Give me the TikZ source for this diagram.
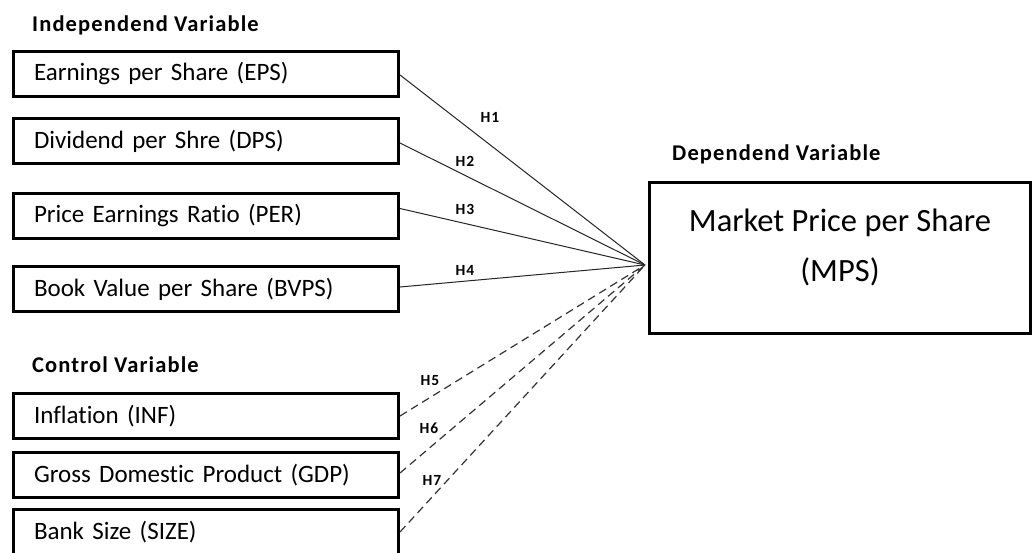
\documentclass[tikz,border=0pt]{standalone}
\usepackage{fontspec}
\setmainfont[Ligatures=NoCommon]{Carlito}
\begin{document}
\begin{tikzpicture}[x=1pt,y=-1pt,
  varbox/.style={draw=black, line width=3pt, minimum width=385pt, minimum height=45pt,
    inner xsep=20.5pt, text width=344pt, align=left, font=\fontsize{25}{30}\selectfont},
  heading/.style={anchor=base west, inner sep=0pt, font=\fontsize{22.5}{26}\selectfont\bfseries\addfontfeature{LetterSpace=5}},
  hlab/.style={inner sep=0pt, font=\fontsize{15.5}{17}\selectfont\bfseries\addfontfeature{LetterSpace=6}},
  solidlink/.style={draw=black!85, line width=1pt},
  dashlink/.style={draw=black!80, line width=1.2pt, dash pattern=on 8pt off 5pt}]
\useasboundingbox (0,0) rectangle (1033,552);
\fill[white] (0,0) rectangle (1033,552);

\node[heading] (hind) at (32,31) {Independend Variable};
\node[heading] (hdep) at (672,160) {Dependend Variable};
\node[heading] (hctl) at (32,372) {Control Variable};

\node[varbox] (b1) at (206,74) {Earnings per Share (EPS)};
\node[varbox] (b2) at (206,141) {Dividend per Shre (DPS)};
\node[varbox] (b3) at (206,215.5) {Price Earnings Ratio (PER)};
\node[varbox] (b4) at (206,289) {Book Value per Share (BVPS)};
\node[varbox] (b5) at (206,416) {Inflation (INF)};
\node[varbox] (b6) at (206,475) {Gross Domestic Product (GDP)};
\node[varbox] (b7) at (206,532) {Bank Size (SIZE)};

\node[draw=black, line width=3pt, minimum width=380.5pt, minimum height=151pt] (mps) at (839.75,258) {};
\node[align=center, inner sep=0pt, font=\fontsize{32.5}{50}\selectfont] (mpst) at (840,247) {Market Price per Share\\(MPS)};

\coordinate (c) at (645,265);

\draw[solidlink] ([yshift=-1pt]b1.east) -- (c);
\draw[solidlink] ([yshift=-2pt]b2.east) -- (c);
\draw[solidlink] ([yshift=7pt]b3.east) -- (c);
\draw[solidlink] ([yshift=2pt]b4.east) -- (c);
\draw[dashlink] (b5.east) -- (c);
\draw[dashlink] ([yshift=2pt]b6.east) -- (c);
\draw[dashlink] (b7.east) -- (c);

\node[hlab] (l1) at (490,117) {H1};
\node[hlab] (l2) at (465,161) {H2};
\node[hlab] (l3) at (465,209) {H3};
\node[hlab] (l4) at (465,270) {H4};
\node[hlab] (l5) at (430,381) {H5};
\node[hlab] (l6) at (429,428) {H6};
\node[hlab] (l7) at (432,480) {H7};
\end{tikzpicture}
\end{document}
